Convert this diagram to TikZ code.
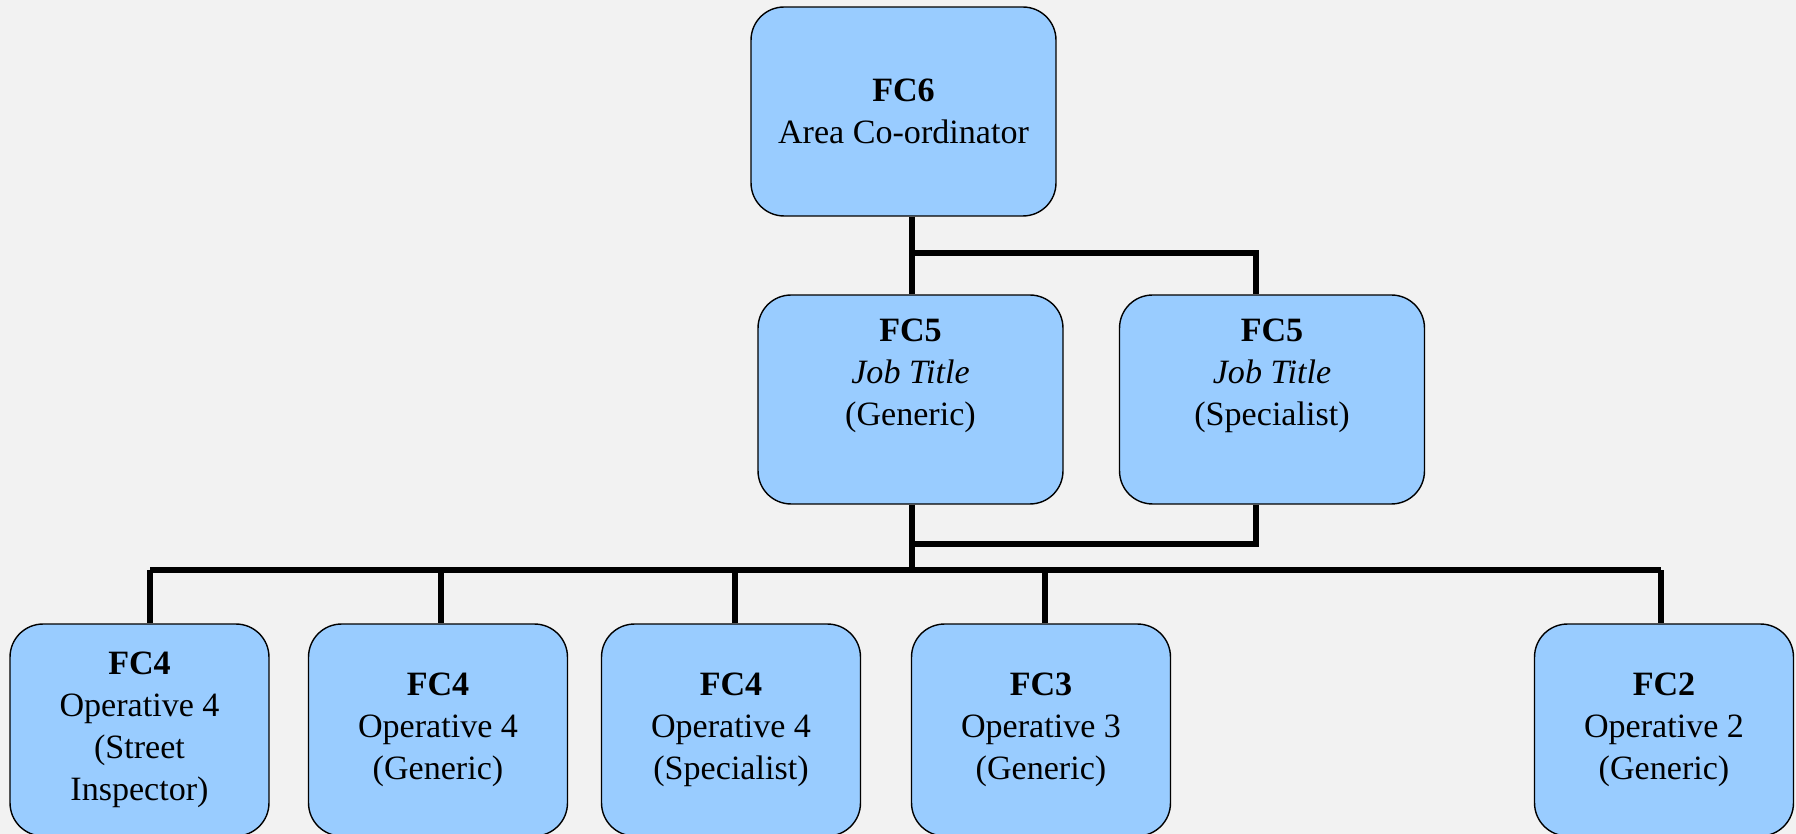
\documentclass[tikz,border=0pt]{standalone}
\usepackage{fontspec}
\setmainfont{Liberation Serif}
\definecolor{boxblue}{HTML}{99CCFF}
\definecolor{paper}{HTML}{F2F2F2}
\tikzset{
  post/.style={draw=black, line width=0.8pt, fill=boxblue, rounded corners=0.66cm,
    inner sep=0pt, align=center, font=\fontsize{19.4}{23.9}\selectfont},
  bigpost/.style={post, minimum width=6.1cm, minimum height=4.18cm},
  smallpost/.style={post, minimum width=5.18cm, minimum height=4.24cm},
  link/.style={line width=3pt}
}
\begin{document}
\begin{tikzpicture}[x=0.02cm,y=-0.02cm]
      \useasboundingbox (0,0) rectangle (1796,834);
      \clip (0,0) rectangle (1796,834);
      \fill[paper] (0,0) rectangle (1796,834);
      \draw
        (903.5,111.5) node[bigpost] (fc6){\textbf{FC6}\\Area Co-ordinator}
        (910.5,399.5) node[bigpost] (fc5a){\textbf{FC5}\\\textit{Job Title}\\(Generic)\\\strut}
        (1272,399.5) node[bigpost] (fc5b){\textbf{FC5}\\\textit{Job Title}\\(Specialist)\\\strut}
        (139.5,730) node[smallpost] (op1){\textbf{FC4}\\Operative 4\\(Street\\Inspector)}
        (438,730) node[smallpost] (op2){\textbf{FC4}\\Operative 4\\(Generic)}
        (731,730) node[smallpost] (op3){\textbf{FC4}\\Operative 4\\(Specialist)}
        (1041,730) node[smallpost] (op4){\textbf{FC3}\\Operative 3\\(Generic)}
        (1664,730) node[smallpost] (op5){\textbf{FC2}\\Operative 2\\(Generic)};
      \coordinate (t6) at (912,253);
      \coordinate (t5) at (1256,253);
      \coordinate (bus) at (912,570);
      \coordinate (j5) at (1256,544);
      \coordinate (d1) at (150,570);
      \coordinate (d2) at (441,570);
      \coordinate (d3) at (735,570);
      \coordinate (d4) at (1045,570);
      \coordinate (d5) at (1661,570);
      \begin{scope}[link]
        \draw (t6 |- fc6.south) to (t6 |- fc5a.north);
        \draw (t6) -| (t5 |- fc5b.north);
        \draw (bus |- fc5a.south) to (bus);
        \draw (j5 |- fc5b.south) |- (bus |- j5);
        \draw (d1) to (d5);
        \draw (d1) to (d1 |- op1.north);
        \draw (d2) to (d2 |- op2.north);
        \draw (d3) to (d3 |- op3.north);
        \draw (d4) to (d4 |- op4.north);
        \draw (d5) to (d5 |- op5.north);
      \end{scope}
    \end{tikzpicture}
\end{document}
